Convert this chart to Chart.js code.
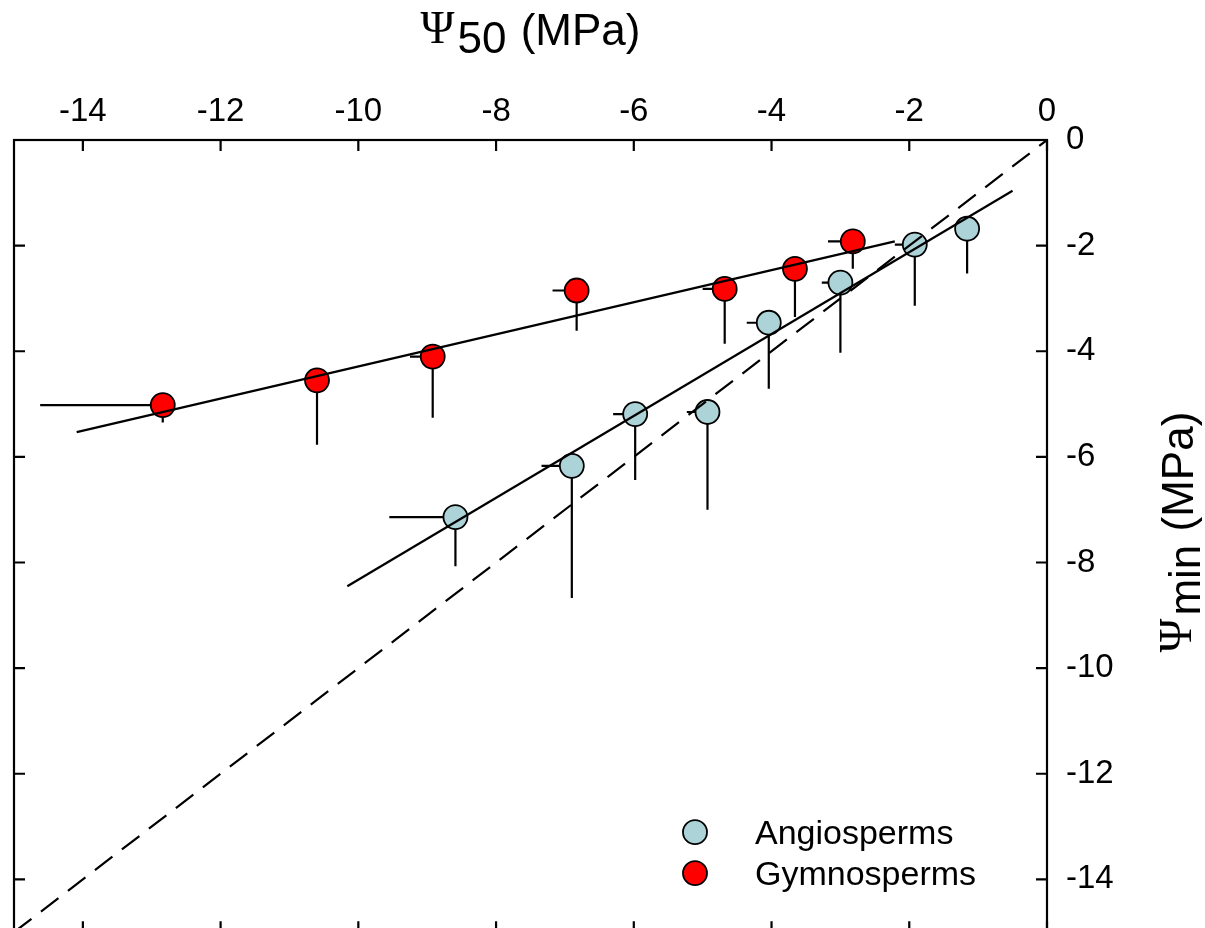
<!DOCTYPE html>
<html>
<head>
<meta charset="utf-8">
<script src="https://cdn.jsdelivr.net/npm/chart.js@4.4.1/dist/chart.umd.min.js"></script>
<style>
html, body { margin: 0; padding: 0; background: #fff; overflow: hidden; }
</style>
</head>
<body>
<canvas id="chart" width="1205" height="946"></canvas>
<script>
// tick values
const xTicks = [-14, -12, -10, -8, -6, -4, -2, 0];
const yTicks = [0, -2, -4, -6, -8, -10, -12, -14];

// angiosperms: mean P50, mean Pmin, and the (one sided) error bars
const angioX    = [-8.59, -6.90, -5.98, -4.93, -4.04, -3.00, -1.92, -1.16];
const angioY    = [-7.14, -6.17, -5.19, -5.15, -3.46, -2.70, -1.98, -1.68];
const angioXErr = [0.96, 0.44, 0.32, 0.30, 0.32, 0.27, 0.29, 0.15];
const angioYErr = [0.93, 2.50, 1.25, 1.85, 1.25, 1.33, 1.16, 0.85];

// gymnosperms
const gymnoX    = [-12.84, -10.60, -8.92, -6.83, -4.68, -3.66, -2.82];
const gymnoY    = [-5.02, -4.55, -4.10, -2.85, -2.82, -2.44, -1.92];
const gymnoXErr = [1.78, 0, 0.33, 0.35, 0.32, 0.18, 0.36];
const gymnoYErr = [0.33, 1.22, 1.16, 0.76, 1.04, 0.91, 0.52];

// regression lines (end points) and 1:1 line
const angioFitX = [-10.16, -0.50];
const angioFitY = [-8.45, -0.96];
const gymnoFitX = [-14.09, -2.21];
const gymnoFitY = [-5.53, -1.92];
const oneToOne  = [-15, 0];

const labels = ['Angiosperms', 'Gymnosperms'];
const angioColor = '#acd3d7';
const gymnoColor = '#ff0000';

function pts(xs, ys) {
    return xs.map((x, i) => ({ x: x, y: ys[i] }));
}

const FONT = '"Liberation Sans", Arial, sans-serif';

// error bars drawn under the circles
const errorBars = {
    id: 'errorBars',
    beforeDatasetsDraw(chart) {
        const ctx = chart.ctx;
        const xs = chart.scales.x, ys = chart.scales.y;
        const sets = [
            [angioX, angioY, angioXErr, angioYErr],
            [gymnoX, gymnoY, gymnoXErr, gymnoYErr]
        ];
        ctx.save();
        ctx.strokeStyle = '#000';
        ctx.lineWidth = 2.2;
        sets.forEach(s => {
            for (let i = 0; i < s[0].length; i++) {
                const px = xs.getPixelForValue(s[0][i]);
                const py = ys.getPixelForValue(s[1][i]);
                ctx.beginPath();
                if (s[2][i] > 0) {
                    ctx.moveTo(px, py);
                    ctx.lineTo(xs.getPixelForValue(s[0][i] - s[2][i]), py);
                }
                if (s[3][i] > 0) {
                    ctx.moveTo(px, py);
                    ctx.lineTo(px, ys.getPixelForValue(s[1][i] - s[3][i]));
                }
                ctx.stroke();
            }
        });
        ctx.restore();
    }
};

// frame, inward ticks on four sides, axis titles and legend
const decor = {
    id: 'decor',
    afterDraw(chart) {
        const ctx = chart.ctx;
        const a = chart.chartArea;
        const xs = chart.scales.x, ys = chart.scales.y;
        ctx.save();
        ctx.strokeStyle = '#000';
        ctx.lineWidth = 2.2;
        ctx.strokeRect(a.left, a.top, a.right - a.left, a.bottom - a.top);
        const tl = 11;
        ctx.beginPath();
        xTicks.forEach(v => {
            const p = xs.getPixelForValue(v);
            ctx.moveTo(p, a.top); ctx.lineTo(p, a.top + tl);
            ctx.moveTo(p, a.bottom); ctx.lineTo(p, a.bottom - tl);
        });
        yTicks.forEach(v => {
            const p = ys.getPixelForValue(v);
            ctx.moveTo(a.left, p); ctx.lineTo(a.left + tl, p);
            ctx.moveTo(a.right, p); ctx.lineTo(a.right - tl, p);
        });
        ctx.stroke();

        // top title: Psi_50 (MPa)
        ctx.fillStyle = '#000';
        ctx.textBaseline = 'alphabetic';
        ctx.textAlign = 'left';
        const psiFont = '46px "Liberation Serif", "DejaVu Serif", serif';
        const mainFont = '44px ' + FONT;
        ctx.font = psiFont;
        const wPsi = ctx.measureText('\u03A8').width;
        ctx.font = mainFont;
        const wSub = ctx.measureText('50').width;
        const wRest = ctx.measureText(' (MPa)').width;
        const total = wPsi + 3 + wSub + 2 + wRest;
        let x = (a.left + a.right) / 2 - total / 2;
        ctx.font = psiFont;
        ctx.fillText('\u03A8', x, 43);
        x += wPsi + 3;
        ctx.font = mainFont;
        ctx.fillText('50', x, 53);
        x += wSub + 2;
        ctx.fillText(' (MPa)', x, 45);

        // right title: Psi_min (MPa), rotated
        ctx.save();
        ctx.translate(1193, (a.top + a.bottom) / 2 - 4);
        ctx.rotate(-Math.PI / 2);
        ctx.font = psiFont;
        const wPsi2 = ctx.measureText('\u03A8').width;
        ctx.font = mainFont;
        const wMin = ctx.measureText('min').width;
        const total2 = wPsi2 + 3 + wMin + 1 + wRest;
        let t = -total2 / 2;
        ctx.font = psiFont;
        ctx.fillText('\u03A8', t, -2);
        t += wPsi2 + 3;
        ctx.font = mainFont;
        ctx.fillText('min', t, 7);
        t += wMin + 1;
        ctx.fillText(' (MPa)', t, 0);
        ctx.restore();

        // legend inside the plot, bottom right
        const items = [[labels[0], angioColor], [labels[1], gymnoColor]];
        ctx.font = '34px ' + FONT;
        ctx.textBaseline = 'middle';
        items.forEach((it, i) => {
            const cy = a.bottom - 100 + i * 41;
            const cx = a.right - 352;
            ctx.beginPath();
            ctx.arc(cx, cy, 12, 0, Math.PI * 2);
            ctx.fillStyle = it[1];
            ctx.fill();
            ctx.lineWidth = 1.8;
            ctx.stroke();
            ctx.fillStyle = '#000';
            ctx.fillText(it[0], a.right - 292, cy + 2);
        });
        ctx.restore();
    }
};

new Chart(document.getElementById('chart'), {
    type: 'scatter',
    data: {
        datasets: [
            {
                type: 'line',
                data: pts(oneToOne, oneToOne),
                borderColor: '#000',
                borderWidth: 2.2,
                borderDash: [22, 12],
                pointRadius: 0,
                order: 0
            },
            {
                type: 'line',
                data: pts(angioFitX, angioFitY),
                borderColor: '#000',
                borderWidth: 2.2,
                pointRadius: 0,
                order: 0
            },
            {
                type: 'line',
                data: pts(gymnoFitX, gymnoFitY),
                borderColor: '#000',
                borderWidth: 2.2,
                pointRadius: 0,
                order: 0
            },
            {
                label: labels[0],
                data: pts(angioX, angioY),
                backgroundColor: angioColor,
                borderColor: '#000',
                borderWidth: 1.8,
                pointRadius: 12,
                order: 1
            },
            {
                label: labels[1],
                data: pts(gymnoX, gymnoY),
                backgroundColor: gymnoColor,
                borderColor: '#000',
                borderWidth: 1.8,
                pointRadius: 12,
                order: 1
            }
        ]
    },
    options: {
        responsive: false,
        animation: false,
        devicePixelRatio: 1,
        layout: { padding: { left: 14, top: 0, right: 0, bottom: 3 } },
        plugins: {
            legend: { display: false },
            tooltip: { enabled: false }
        },
        scales: {
            x: {
                type: 'linear',
                position: 'top',
                min: -15,
                max: 0,
                grid: { display: false },
                border: { display: false },
                afterBuildTicks: s => { s.ticks = xTicks.map(v => ({ value: v })); },
                afterFit: s => { s.height = 140; s.paddingLeft = 0; s.paddingRight = 0; },
                ticks: {
                    color: '#000',
                    padding: 0,
                    maxRotation: 0,
                    font: { family: FONT, size: 33 }
                }
            },
            y: {
                type: 'linear',
                position: 'right',
                min: -15,
                max: 0,
                grid: { display: false },
                border: { display: false },
                afterBuildTicks: s => { s.ticks = yTicks.map(v => ({ value: v })); },
                afterFit: s => { s.width = 158; s.paddingTop = 0; s.paddingBottom = 0; },
                ticks: {
                    color: '#000',
                    padding: 11,
                    font: { family: FONT, size: 33 }
                }
            }
        }
    },
    plugins: [errorBars, decor]
});
</script>
</body>
</html>
